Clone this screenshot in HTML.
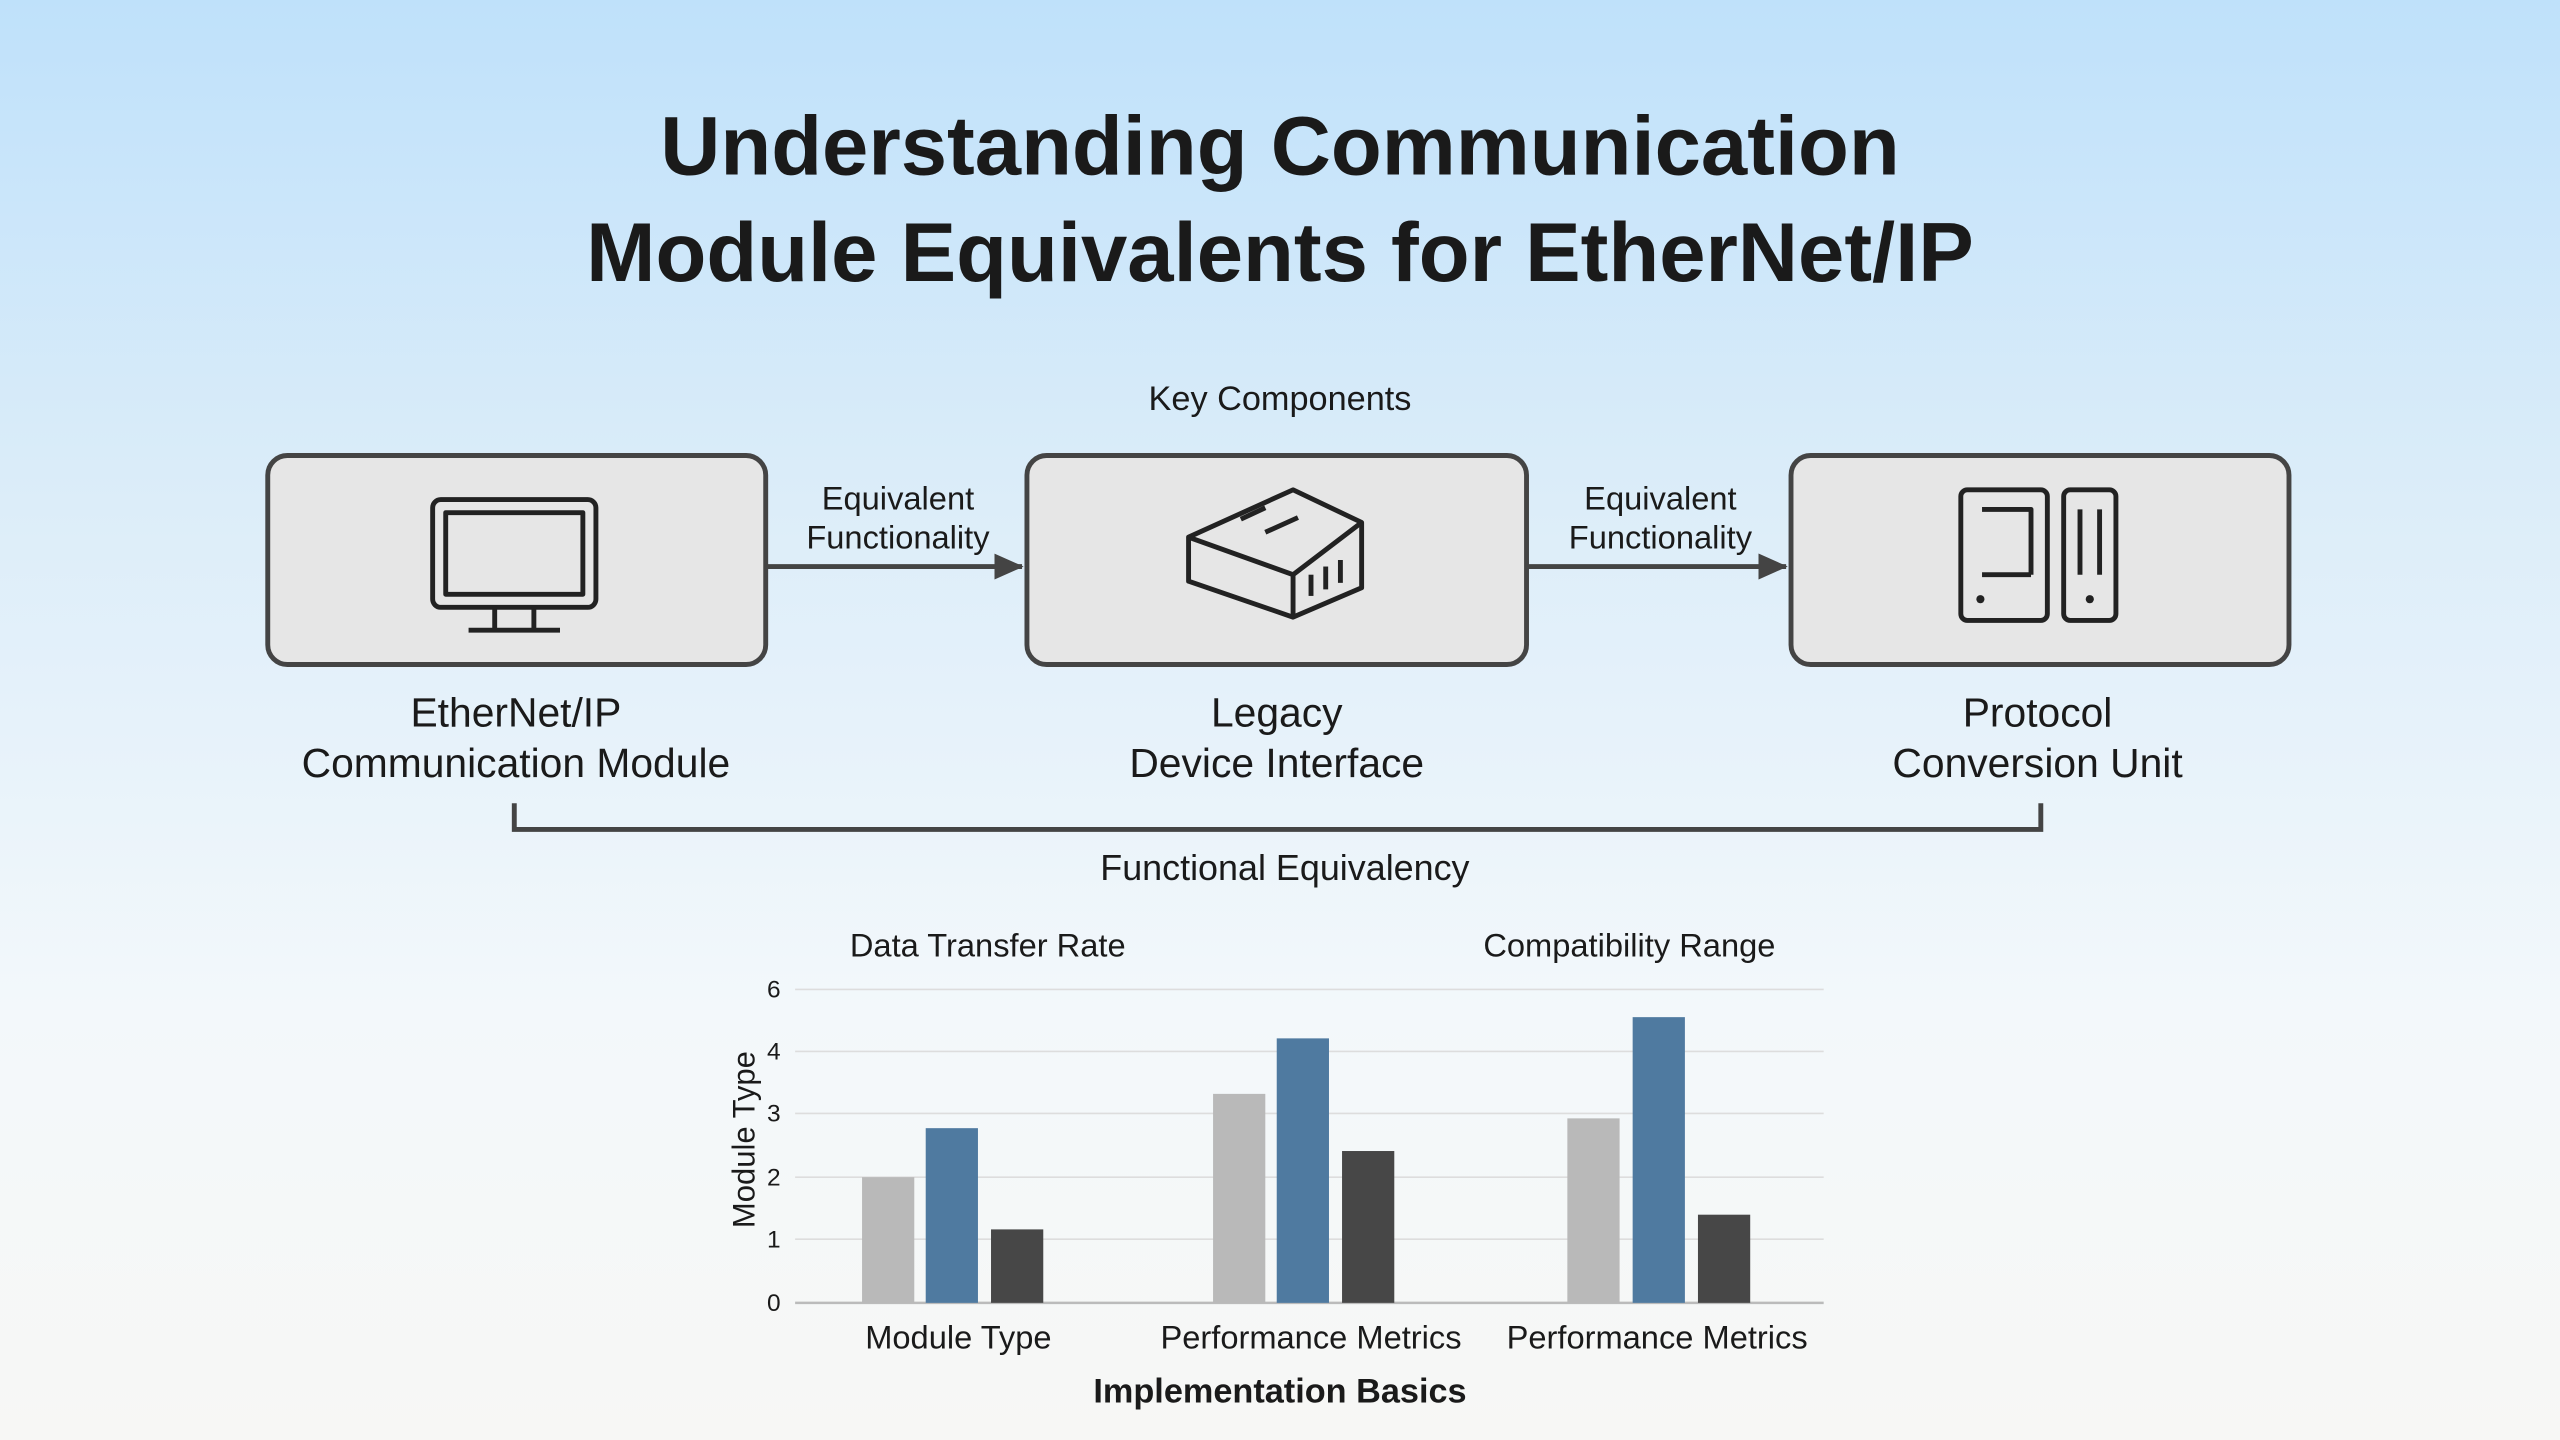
<!DOCTYPE html>
<html><head><meta charset="utf-8"><style>
html,body{margin:0;padding:0;width:2560px;height:1440px;overflow:hidden}
svg{display:block}
text{font-family:"Liberation Sans","DejaVu Sans",sans-serif;fill:#1a1a1a}
</style></head><body>
<svg width="2560" height="1440" viewBox="0 0 1568 882" xmlns="http://www.w3.org/2000/svg">
<defs>
<linearGradient id="bg" x1="0" y1="0" x2="0" y2="1">
<stop offset="0" stop-color="#bfe1fa"/>
<stop offset="0.35" stop-color="#dcedf9"/>
<stop offset="0.7" stop-color="#f3f8fb"/>
<stop offset="1" stop-color="#f7f7f5"/>
</linearGradient>
<marker id="ah" markerWidth="18" markerHeight="16" refX="17" refY="8" orient="auto" markerUnits="userSpaceOnUse"><path d="M0,0 L18,8 L0,16 z" fill="#444"/></marker>
</defs>
<rect width="1568" height="882" fill="url(#bg)"/>
<text x="784" y="107" font-size="51" font-weight="bold" text-anchor="middle" fill="#0d0d0d">Understanding Communication</text>
<text x="784" y="172" font-size="51" font-weight="bold" text-anchor="middle" fill="#0d0d0d">Module Equivalents for EtherNet/IP</text>
<text x="784" y="251" font-size="21" text-anchor="middle" fill="#333">Key Components</text>

<g fill="#e6e6e6" stroke="#444" stroke-width="3">
<rect x="164" y="279" width="305" height="128" rx="12"/>
<rect x="629" y="279" width="306" height="128" rx="12"/>
<rect x="1097" y="279" width="305" height="128" rx="12"/>
</g>
<g stroke="#444" stroke-width="3" fill="none">
<line x1="470" y1="347" x2="626" y2="347" marker-end="url(#ah)"/>
<line x1="936" y1="347" x2="1094" y2="347" marker-end="url(#ah)"/>
<path d="M315,492 V508 H1250 V492"/>
</g>
<g font-size="20" text-anchor="middle" fill="#333">
<text x="550" y="312">Equivalent</text><text x="550" y="336">Functionality</text>
<text x="1017" y="312">Equivalent</text><text x="1017" y="336">Functionality</text>
</g>
<g stroke="#222" stroke-width="3" fill="none" stroke-linejoin="round">
<rect x="265" y="306" width="100" height="66" rx="5"/>
<rect x="273" y="314" width="84" height="50"/>
<line x1="303" y1="372" x2="303" y2="385"/><line x1="327" y1="372" x2="327" y2="385"/>
<line x1="287" y1="386" x2="343" y2="386"/>
<path d="M728,329 L792,300 L834,320 L834,360 L792,378 L728,356 Z"/>
<path d="M728,329 L792,352 L834,320 M792,352 L792,378"/>
<line x1="760" y1="318" x2="775" y2="311"/><line x1="775" y1="326" x2="795" y2="317"/>
<line x1="803" y1="352" x2="803" y2="365"/><line x1="812" y1="347" x2="812" y2="361"/><line x1="821" y1="343" x2="821" y2="357"/>
<rect x="1201" y="300" width="53" height="80" rx="4"/>
<path d="M1214,312 H1244 V352 M1214,352 H1244"/>
<rect x="1264" y="300" width="32" height="80" rx="4"/>
<line x1="1274" y1="312" x2="1274" y2="352"/><line x1="1286" y1="312" x2="1286" y2="352"/>
</g>
<circle cx="1213" cy="367" r="2.5" fill="#222"/><circle cx="1280" cy="367" r="2.5" fill="#222"/>

<g font-size="25" text-anchor="middle" fill="#111">
<text x="316" y="445">EtherNet/IP</text><text x="316" y="476">Communication Module</text>
<text x="782" y="445">Legacy</text><text x="782" y="476">Device Interface</text>
<text x="1248" y="445">Protocol</text><text x="1248" y="476">Conversion Unit</text>
</g>
<text x="787" y="539" font-size="22" text-anchor="middle" fill="#333">Functional Equivalency</text>

<text x="605" y="586" font-size="20" text-anchor="middle" fill="#111">Data Transfer Rate</text>
<text x="998" y="586" font-size="20" text-anchor="middle" fill="#111">Compatibility Range</text>
<g stroke="#ddd" stroke-width="1">
<line x1="487" y1="606" x2="1117" y2="606"/><line x1="487" y1="644" x2="1117" y2="644"/>
<line x1="487" y1="682" x2="1117" y2="682"/><line x1="487" y1="721" x2="1117" y2="721"/>
<line x1="487" y1="759" x2="1117" y2="759"/>
</g>
<line x1="487" y1="798" x2="1117" y2="798" stroke="#bbb" stroke-width="1.5"/>
<g font-size="15" text-anchor="middle" fill="#555">
<text x="474" y="611">6</text><text x="474" y="649">4</text><text x="474" y="687">3</text>
<text x="474" y="726">2</text><text x="474" y="764">1</text><text x="474" y="803">0</text>
</g>
<text transform="translate(462,698) rotate(-90)" font-size="19" text-anchor="middle" fill="#111">Module Type</text>
<g>
<rect x="528" y="721" width="32" height="77" fill="#b9b9b9"/>
<rect x="567" y="691" width="32" height="107" fill="#4f7aa0"/>
<rect x="607" y="753" width="32" height="45" fill="#474747"/>
<rect x="743" y="670" width="32" height="128" fill="#b9b9b9"/>
<rect x="782" y="636" width="32" height="162" fill="#4f7aa0"/>
<rect x="822" y="705" width="32" height="93" fill="#474747"/>
<rect x="960" y="685" width="32" height="113" fill="#b9b9b9"/>
<rect x="1000" y="623" width="32" height="175" fill="#4f7aa0"/>
<rect x="1040" y="744" width="32" height="54" fill="#474747"/>
</g>
<g font-size="20" text-anchor="middle" fill="#111">
<text x="587" y="826">Module Type</text>
<text x="803" y="826">Performance Metrics</text>
<text x="1015" y="826">Performance Metrics</text>
</g>
<text x="784" y="859" font-size="21" font-weight="bold" text-anchor="middle" fill="#111">Implementation Basics</text>
</svg>
</body></html>
